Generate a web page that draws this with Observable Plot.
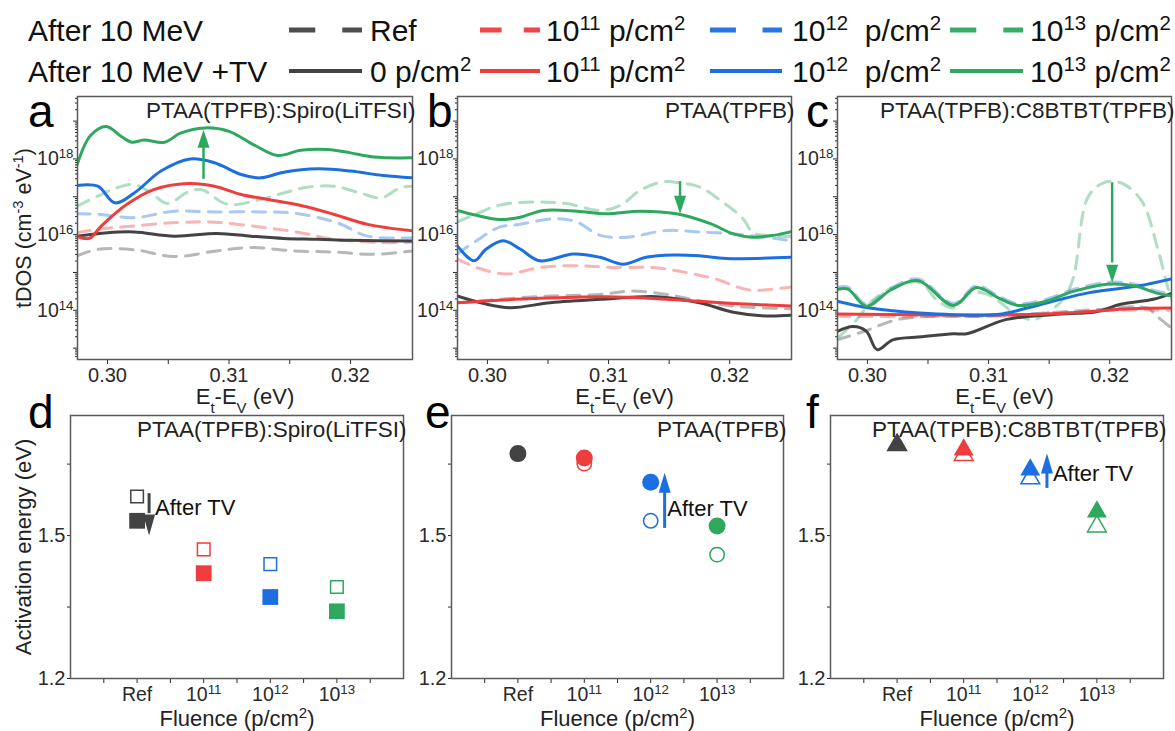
<!DOCTYPE html>
<html><head><meta charset="utf-8">
<script src="https://cdn.jsdelivr.net/npm/d3@7"></script>
<script src="https://cdn.jsdelivr.net/npm/@observablehq/plot@0.6"></script>
<style>
body{margin:0;background:#fff;}
#fig{position:relative;width:1175px;height:731px;overflow:hidden;background:#fff;}
#fig svg{position:absolute;overflow:visible;}
</style></head><body><div id="fig"></div><script>
const FONT = "'Liberation Sans', Arial, Helvetica, sans-serif";
const COLORS = ["#434343", "#ef3c3c", "#1c6fe0", "#2ea85f"];

// ---------- data: tDOS curves, [Et-Ev (eV), log10 tDOS] ----------
const energyTicks = [0.30, 0.31, 0.32];
// Panel a: PTAA(TPFB):Spiro(LiTFSI)
const aBlackAfter = [[0.2975,15.44],[0.2992,15.61],[0.3022,15.6],[0.3055,15.42],[0.309,15.57],[0.3118,15.66],[0.3153,15.57],[0.3186,15.54],[0.3219,15.48],[0.3251,15.57]];
const aRedAfter   = [[0.2975,16.05],[0.2992,16.14],[0.3022,16.23],[0.3058,16.32],[0.3088,16.33],[0.3126,16.2],[0.3159,16.05],[0.3186,15.88],[0.3225,15.79],[0.3251,15.8]];
const aBlueAfter  = [[0.2975,16.55],[0.2992,16.54],[0.3022,16.45],[0.3055,16.62],[0.3088,16.6],[0.3126,16.6],[0.3156,16.56],[0.319,16.3],[0.3214,15.96],[0.3251,15.92]];
const aGreenAfter = [[0.2975,16.75],[0.2992,17.02],[0.3008,17.24],[0.3022,17.32],[0.3036,17.1],[0.3049,16.82],[0.3066,17.12],[0.3077,17.19],[0.3099,16.8],[0.3126,16.93],[0.3145,17.1],[0.3164,17.25],[0.3186,17.28],[0.3208,17.1],[0.3225,16.97],[0.3241,17.24],[0.3251,17.28]];
const aBlackTV = [[0.2975,15.96],[0.3,16.05],[0.3022,16.07],[0.3055,15.96],[0.309,16.03],[0.3118,15.96],[0.3145,15.9],[0.3173,15.88],[0.32,15.85],[0.3251,15.83]];
const aRedTV   = [[0.2975,15.95],[0.2985,15.9],[0.2995,16.23],[0.3016,16.8],[0.3038,17.19],[0.3066,17.35],[0.3088,17.28],[0.311,17.06],[0.3132,16.93],[0.3159,16.77],[0.3186,16.54],[0.3214,16.27],[0.3251,16.1]];
const aBlueTV  = [[0.2975,17.3],[0.2992,17.28],[0.3006,16.84],[0.3022,17.1],[0.3044,17.68],[0.3068,18.0],[0.3088,17.9],[0.311,17.59],[0.3126,17.5],[0.3145,17.65],[0.3173,17.74],[0.32,17.68],[0.3227,17.56],[0.3251,17.5]];
const aGreenTV = [[0.2975,17.85],[0.2986,18.62],[0.2999,18.86],[0.3011,18.6],[0.302,18.44],[0.303,18.5],[0.3047,18.44],[0.306,18.68],[0.308,18.82],[0.31,18.73],[0.312,18.38],[0.314,18.09],[0.3159,18.23],[0.3181,18.25],[0.32,18.16],[0.3219,18.05],[0.3251,18.03]];
const aArrow = [{e: 0.3079, tail: 17.46, base: 18.3, tip: 18.77}];
// Panel b: PTAA(TPFB)
const bBlackAfter = [[0.2975,14.2],[0.301,14.29],[0.3052,14.38],[0.3093,14.42],[0.312,14.51],[0.3148,14.42],[0.3175,14.25],[0.3203,14.11],[0.3251,14.04]];
const bRedAfter   = [[0.2975,15.36],[0.2991,15.13],[0.3016,14.96],[0.3043,15.13],[0.3074,15.18],[0.3104,15.13],[0.3137,15.13],[0.3164,15.0],[0.3189,14.82],[0.3216,14.54],[0.3251,14.62]];
const bBlueAfter  = [[0.2975,15.49],[0.2991,15.84],[0.301,16.2],[0.3024,16.26],[0.3057,16.42],[0.3074,16.33],[0.3093,15.98],[0.3115,15.93],[0.3148,16.11],[0.3175,16.07],[0.3203,16.02],[0.323,15.93],[0.3251,15.84]];
const bGreenAfter = [[0.2975,16.33],[0.2991,16.55],[0.301,16.78],[0.3038,16.86],[0.3065,16.82],[0.3093,16.64],[0.311,16.78],[0.3126,17.17],[0.3145,17.4],[0.3156,17.38],[0.3175,17.26],[0.3192,16.91],[0.3211,16.42],[0.3219,16.06],[0.323,15.98],[0.3251,15.95]];
const bBlackTV = [[0.2975,14.38],[0.2997,14.18],[0.3019,14.07],[0.3052,14.2],[0.3093,14.29],[0.314,14.36],[0.3175,14.2],[0.3203,13.95],[0.323,13.85],[0.3251,13.87]];
const bRedTV   = [[0.2975,14.2],[0.3038,14.31],[0.3098,14.36],[0.3148,14.29],[0.3203,14.18],[0.3251,14.11]];
const bBlueTV  = [[0.2975,15.71],[0.2989,15.31],[0.2999,15.62],[0.3013,15.84],[0.3027,15.62],[0.3043,15.31],[0.3071,15.49],[0.3093,15.4],[0.3112,15.22],[0.3131,15.4],[0.3153,15.46],[0.3175,15.44],[0.3197,15.37],[0.3251,15.4]];
const bGreenTV = [[0.2975,16.64],[0.2991,16.51],[0.301,16.4],[0.3027,16.46],[0.3046,16.64],[0.3074,16.62],[0.3098,16.55],[0.3126,16.62],[0.3156,16.55],[0.3184,16.29],[0.3203,16.02],[0.3219,15.93],[0.3236,15.98],[0.3251,16.08]];
const bArrow = [{e: 0.3159, tail: 17.4, base: 17.0, tip: 16.55}];
// Panel c: PTAA(TPFB):C8BTBT(TPFB)
const cBlackAfter = [[0.2975,13.22],[0.2997,13.44],[0.3024,13.75],[0.3052,13.84],[0.3093,13.84],[0.3148,13.93],[0.319,14.02],[0.3231,14.06],[0.3239,13.84],[0.3251,13.53]];
const cRedAfter   = [[0.2975,13.84],[0.3038,13.84],[0.3121,13.86],[0.3203,14.0],[0.3251,14.0]];
const cBlueAfter  = [[0.2975,14.6],[0.2984,14.61],[0.2999,14.16],[0.302,14.6],[0.3042,14.83],[0.3071,14.18],[0.309,14.65],[0.3108,14.38],[0.3124,14.18],[0.3145,14.27],[0.317,14.55],[0.3198,14.74],[0.3221,14.69],[0.3238,14.51],[0.3251,14.43]];
const cGreenAfter = [[0.2977,13.31],[0.2991,13.75],[0.3005,14.28],[0.3024,14.64],[0.3044,14.73],[0.3057,14.28],[0.3071,14.06],[0.3085,14.46],[0.3099,14.42],[0.311,14.2],[0.3121,13.93],[0.3137,13.75],[0.3148,13.93],[0.3162,14.3],[0.317,14.86],[0.3182,16.99],[0.3195,17.37],[0.3209,17.37],[0.3226,16.91],[0.324,15.58],[0.3248,14.6],[0.3251,14.3]];
const cBlackTV = [[0.2975,13.44],[0.2988,13.57],[0.2999,13.45],[0.3008,12.96],[0.3021,13.22],[0.3045,13.3],[0.3071,13.38],[0.3082,13.38],[0.3115,13.76],[0.3154,13.89],[0.319,13.97],[0.3209,14.16],[0.3236,14.29],[0.3251,14.45]];
const cRedTV   = [[0.2975,13.9],[0.3038,13.88],[0.3121,13.88],[0.3176,13.95],[0.3217,14.04],[0.3251,14.06]];
const cBlueTV  = [[0.2975,14.24],[0.3002,14.06],[0.3043,13.93],[0.3107,13.89],[0.3132,14.06],[0.3182,14.46],[0.3223,14.64],[0.3251,14.83]];
const cGreenTV = [[0.2975,14.55],[0.2984,14.56],[0.2999,14.11],[0.302,14.55],[0.3042,14.78],[0.3071,14.13],[0.309,14.6],[0.3108,14.33],[0.3124,14.13],[0.3145,14.22],[0.317,14.5],[0.3198,14.69],[0.3221,14.64],[0.3238,14.46],[0.3251,14.38]];
const cArrow = [{e: 0.3202, tail: 17.37, base: 15.25, tip: 14.73}];

// ---------- data: activation energy (eV) ----------
const fluenceLabels = ["Ref", "10^{11}", "10^{12}", "10^{13}"];
const fluenceIdx = [0, 1, 2, 3];
const dAfter = [1.582, 1.471, 1.44, 1.392];
const dTV    = [1.531, 1.421, 1.371, 1.341];
const eAfter = [1.672, 1.651, 1.531, 1.46];
const eTV    = [1.672, 1.663, 1.612, 1.52];
const fAfter = [1.69, 1.669, 1.62, 1.519];
const fTV    = [1.69, 1.68, 1.638, 1.55];
const dArrow = [{x: 0.18, tail: 1.588, base: 1.546, tip: 1.500, c: 0}];
const eArrow = [{x: 2.21, tail: 1.515, base: 1.595, tip: 1.632, c: 2}];
const fArrow = [{x: 2.25, tail: 1.599, base: 1.633, tip: 1.672, c: 2}];
const dNote = [{x: 0.27, y: 1.559}];
const eNote = [{x: 2.25, y: 1.556}];
const fNote = [{x: 2.34, y: 1.630}];

// ---------- helpers ----------
const fig = document.getElementById("fig");
const SVGNS = "http://www.w3.org/2000/svg";
function addSpan(node, text, shift) {
  const t = document.createElementNS(SVGNS, "tspan");
  t.textContent = text;
  if (shift) { t.setAttribute("font-size", "68%"); t.setAttribute("baseline-shift", shift); }
  node.appendChild(t);
}
function richText(node) {
  const s = node.textContent;
  if (!/[\^_]\{/.test(s)) return;
  while (node.firstChild) node.removeChild(node.firstChild);
  const re = /([\^_])\{([^}]*)\}/g; let last = 0, m;
  while ((m = re.exec(s))) {
    if (m.index > last) addSpan(node, s.slice(last, m.index));
    addSpan(node, m[2], m[1] === "^" ? "super" : "sub");
    last = re.lastIndex;
  }
  if (last < s.length) addSpan(node, s.slice(last));
}
function place(svg, left, top) {
  svg.style.left = left + "px"; svg.style.top = top + "px";
  svg.querySelectorAll("text").forEach(richText);
  fig.appendChild(svg);
}
const headUp = (w, h) => ({draw(ctx) { ctx.moveTo(0, 0); ctx.lineTo(w / 2, h); ctx.lineTo(-w / 2, h); ctx.closePath(); }});
const headDown = (w, h) => ({draw(ctx) { ctx.moveTo(0, 0); ctx.lineTo(w / 2, -h); ctx.lineTo(-w / 2, -h); ctx.closePath(); }});

const ML = 90, MR = 20, MT = 20, MB = 60;
const STYLE = {background: "transparent", overflow: "visible", fontFamily: FONT, color: "#2a2a2a"};
const LOG_LO = 12.7, LOG_HI = 19.65;

function logTicks(lo, hi) {
  const odd = [], small = [];
  for (let n = Math.floor(lo); n <= Math.ceil(hi); n++) {
    if (Math.abs(n % 2) === 1) odd.push(10 ** n);
    for (let k = 2; k <= 9; k++) small.push(k * 10 ** n);
  }
  const inside = v => Math.log10(v) >= lo && Math.log10(v) <= hi;
  return {odd: odd.filter(inside), small: small.filter(inside)};
}

function topPanel(frame, after, tv, arrow, title, withYTitle) {
  const [fl, ft, fr, fb] = frame;
  const W = fr - fl + ML + MR, H = fb - ft + MT + MB;
  const lt = logTicks(LOG_LO, LOG_HI);
  const marks = [
    Plot.axisX({ticks: energyTicks, tickFormat: d => d.toFixed(2), tickSize: 5, tickPadding: 3, fontSize: 20, label: null}),
    Plot.axisX({ticks: [0.305, 0.315], tickSize: 5, tickFormat: () => "", label: null}),
    Plot.axisY({ticks: [1e14, 1e16, 1e18], tickFormat: d => `10^{${Math.round(Math.log10(d))}}`, tickSize: 4, tickPadding: 0, fontSize: 19.5, label: null}),
    Plot.axisY({ticks: lt.odd, tickSize: 4, tickFormat: () => "", label: null}),
    Plot.axisY({ticks: lt.small, tickSize: 2, tickFormat: () => "", label: null}),
  ];
  after.forEach((s, i) => marks.push(Plot.line(s, {x: d => d[0], y: d => 10 ** d[1], stroke: COLORS[i], strokeWidth: 3, strokeOpacity: 0.38, strokeDasharray: "13,9", curve: "catmull-rom", clip: true})));
  tv.forEach((s, i) => marks.push(Plot.line(s, {x: d => d[0], y: d => 10 ** d[1], stroke: COLORS[i], strokeWidth: 3, curve: "catmull-rom", clip: true})));
  const up = arrow[0].tip > arrow[0].tail;
  marks.push(
    Plot.ruleX(arrow, {x: "e", y1: d => 10 ** d.tail, y2: d => 10 ** d.base, stroke: COLORS[3], strokeWidth: 2.5}),
    Plot.dot(arrow, {x: "e", y: d => 10 ** d.tip, symbol: up ? headUp(12, 18) : headDown(12, 18), fill: COLORS[3], stroke: "none"}),
    Plot.frame({stroke: "#5a5a5a", strokeWidth: 1.5}),
    Plot.text([title], {frameAnchor: "top-right", text: d => d, dx: 3, dy: 14, lineAnchor: "middle", textAnchor: "end", fontSize: 22.5, fill: "#222"}),
    Plot.text(["E_{t}-E_{V} (eV)"], {frameAnchor: "bottom", text: d => d, dy: 37, lineAnchor: "middle", fontSize: 22, fill: "#222"})
  );
  if (withYTitle) marks.push(Plot.text(["tDOS (cm^{-3} eV^{-1})"], {frameAnchor: "left", text: d => d, dx: -53, rotate: -90, lineAnchor: "middle", textAnchor: "middle", fontSize: 21.5, fill: "#222"}));
  const svg = Plot.plot({
    width: W, height: H, marginLeft: ML, marginRight: MR, marginTop: MT, marginBottom: MB,
    x: {domain: [0.29753, 0.3251], axis: null},
    y: {type: "log", domain: [10 ** LOG_LO, 10 ** LOG_HI], axis: null},
    style: STYLE, marks
  });
  place(svg, fl - ML, ft - MT);
}

function bottomPanel(frame, after, tv, symbol, rOpen, rFill, arrow, note, title, withYTitle) {
  const [fl, ft, fr, fb] = frame;
  const W = fr - fl + ML + MR, H = fb - ft + MT + MB;
  const up = arrow[0].tip > arrow[0].tail;
  const marks = [
    Plot.axisX({ticks: fluenceIdx, tickFormat: i => fluenceLabels[i], tickSize: 5, tickPadding: 4, fontSize: 19.5, label: null}),
    Plot.axisX({ticks: [-0.5, 0.5, 1.5, 2.5, 3.5], tickSize: 5, tickFormat: () => "", label: null}),
    Plot.axisY({ticks: [1.2, 1.5], tickFormat: d => d.toFixed(1), tickSize: 3, tickPadding: 2, fontSize: 20, label: null}),
    Plot.axisY({ticks: [1.35, 1.65], tickSize: 3, tickFormat: () => "", label: null}),
    Plot.dot(fluenceIdx, {x: i => i, y: i => after[i], symbol, r: rOpen, stroke: i => COLORS[i], fill: "none", strokeWidth: 1.5}),
    Plot.dot(fluenceIdx, {x: i => i, y: i => tv[i], symbol, r: rFill, fill: i => COLORS[i], stroke: "none"}),
    Plot.ruleX(arrow, {x: "x", y1: "tail", y2: "base", stroke: d => COLORS[d.c], strokeWidth: 3}),
    Plot.dot(arrow, {x: "x", y: "tip", symbol: up ? headUp(12, 20) : headDown(12, 21), fill: d => COLORS[d.c], stroke: "none"}),
    Plot.text(note, {x: "x", y: "y", text: () => "After TV", textAnchor: "start", lineAnchor: "middle", fontSize: 22, fill: "#111"}),
    Plot.frame({stroke: "#5a5a5a", strokeWidth: 1.5}),
    Plot.text([title], {frameAnchor: "top-right", text: d => d, dx: 3, dy: 14, lineAnchor: "middle", textAnchor: "end", fontSize: 22.5, fill: "#222"}),
    Plot.text(["Fluence (p/cm^{2})"], {frameAnchor: "bottom", text: d => d, dy: 40, lineAnchor: "middle", fontSize: 22, fill: "#222"})
  ];
  if (withYTitle) marks.push(Plot.text(["Activation energy (eV)"], {frameAnchor: "left", text: d => d, dx: -47, rotate: -90, lineAnchor: "middle", textAnchor: "middle", fontSize: 22, fill: "#222"}));
  const svg = Plot.plot({
    width: W, height: H, marginLeft: ML, marginRight: MR, marginTop: MT, marginBottom: MB,
    x: {domain: [-1, 4], axis: null},
    y: {domain: [1.2, 1.752], axis: null},
    color: {type: "identity"},
    style: STYLE, marks
  });
  place(svg, fl - ML, ft - MT);
}

// ---------- panels ----------
topPanel([77, 96, 412, 359], [aBlackAfter, aRedAfter, aBlueAfter, aGreenAfter], [aBlackTV, aRedTV, aBlueTV, aGreenTV], aArrow, "PTAA(TPFB):Spiro(LiTFSI)", true);
topPanel([457, 96, 791, 359], [bBlackAfter, bRedAfter, bBlueAfter, bGreenAfter], [bBlackTV, bRedTV, bBlueTV, bGreenTV], bArrow, "PTAA(TPFB)", false);
topPanel([837, 96, 1171, 359], [cBlackAfter, cRedAfter, cBlueAfter, cGreenAfter], [cBlackTV, cRedTV, cBlueTV, cGreenTV], cArrow, "PTAA(TPFB):C8BTBT(TPFB)", false);
bottomPanel([70, 415, 403, 678], dAfter, dTV, "square", 7.1, 8.9, dArrow, dNote, "PTAA(TPFB):Spiro(LiTFSI)", true);
bottomPanel([451, 415, 783, 678], eAfter, eTV, "circle", 7.2, 8.5, eArrow, eNote, "PTAA(TPFB)", false);
bottomPanel([830, 415, 1163, 678], fAfter, fTV, "triangle", 7.0, 7.4, fArrow, fNote, "PTAA(TPFB):C8BTBT(TPFB)", false);

// ---------- legend and panel letters ----------
const legendRows = [
  {label: "After 10 MeV", dashed: true, items: ["Ref", "10^{11} p/cm^{2}", "10^{12}  p/cm^{2}", "10^{13} p/cm^{2}"]},
  {label: "After 10 MeV +TV", dashed: false, items: ["0 p/cm^{2}", "10^{11} p/cm^{2}", "10^{12}  p/cm^{2}", "10^{13} p/cm^{2}"]}
];
const swatchX = [[289, 362], [480, 540], [710, 782], [950, 1023]];
const itemX = [370, 546, 792, 1030];
const rowY = [[30, 41], [71, 82]];
const ov = d3.create("svg").attr("width", 1175).attr("height", 731).style("left", "0px").style("top", "0px")
  .attr("font-family", FONT);
legendRows.forEach((row, r) => {
  const [ly, by] = rowY[r];
  ov.append("text").attr("x", 28).attr("y", by).attr("font-size", 30).attr("fill", "#111").text(row.label);
  row.items.forEach((it, i) => {
    const [x1, x2] = swatchX[i];
    if (row.dashed) {
      const seg = (x2 - x1) * 0.36;
      ov.append("line").attr("x1", x1).attr("x2", x1 + seg).attr("y1", ly).attr("y2", ly).attr("stroke", COLORS[i]).attr("stroke-width", 5).attr("stroke-opacity", 0.95);
      ov.append("line").attr("x1", x2 - seg * 0.75).attr("x2", x2).attr("y1", ly).attr("y2", ly).attr("stroke", COLORS[i]).attr("stroke-width", 5).attr("stroke-opacity", 0.95);
    } else {
      ov.append("line").attr("x1", x1).attr("x2", x2).attr("y1", ly).attr("y2", ly).attr("stroke", COLORS[i]).attr("stroke-width", 4);
    }
    ov.append("text").attr("x", itemX[i]).attr("y", by).attr("font-size", 30).attr("fill", "#111").style("white-space", "pre").text(it);
  });
});
const letters = [["a", 28, 127], ["b", 427, 127], ["c", 806, 127], ["d", 28, 428], ["e", 425, 428], ["f", 806, 428]];
letters.forEach(([t, x, y]) => ov.append("text").attr("x", x).attr("y", y).attr("font-size", 46).attr("fill", "#000").text(t));
const ovNode = ov.node();
ovNode.querySelectorAll("text").forEach(richText);
fig.appendChild(ovNode);
</script></body></html>
